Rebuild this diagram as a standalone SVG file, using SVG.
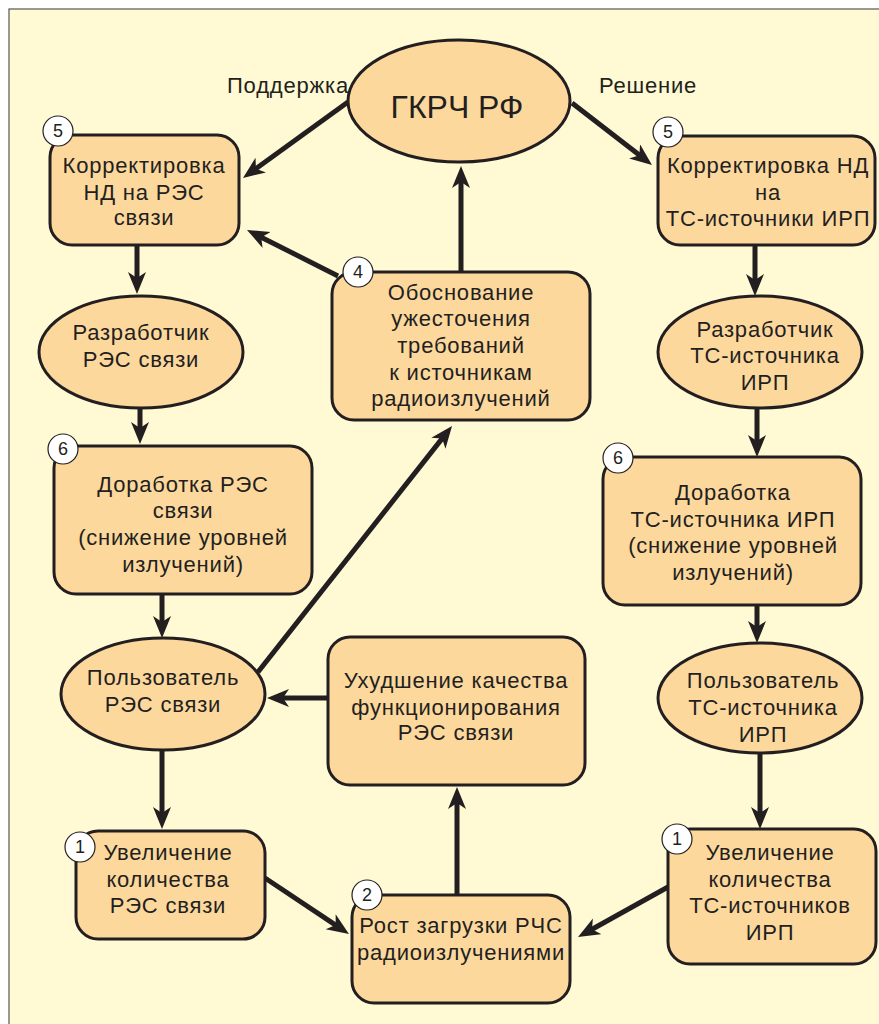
<svg xmlns="http://www.w3.org/2000/svg" width="879" height="1024" viewBox="0 0 879 1024">
<style>
.bg{fill:#FFF9D4;stroke:#555;stroke-width:1.2}
.box{fill:#FDD89D;stroke:#231F20;stroke-width:3}
.badge{fill:#fff;stroke:#231F20;stroke-width:1.2}
.t{font-family:"Liberation Sans",Arial,sans-serif;font-size:22px;letter-spacing:0.8px;fill:#231F20;text-anchor:middle}
.b{font-family:"Liberation Sans",Arial,sans-serif;font-size:18px;fill:#231F20;text-anchor:middle}
.c{stroke:#231F20;stroke-width:5;fill:none;marker-end:url(#ah)}
</style>
<defs>
<marker id="ah" markerUnits="userSpaceOnUse" markerWidth="24" markerHeight="20" refX="10" refY="9" orient="auto">
<path d="M0,0 L22,9 L0,18 L6,9 z" fill="#231F20"/>
</marker>
</defs>
<rect x="0" y="0" width="879" height="1024" fill="#fff"/>
<rect class="bg" x="9" y="9" width="880" height="1030"/>
<text class="t" x="288" y="93">Поддержка</text>
<text class="t" x="648" y="93">Решение</text>
<g id="connectors">
<line class="c" x1="348" y1="102" x2="252.7" y2="171"/>
<line class="c" x1="572" y1="103" x2="642.5" y2="157.6"/>
<line class="c" x1="338" y1="276" x2="257.7" y2="235.4"/>
<line class="c" x1="461" y1="272" x2="461" y2="178"/>
<line class="c" x1="137" y1="245" x2="137" y2="282"/>
<line class="c" x1="140" y1="408" x2="140" y2="432"/>
<line class="c" x1="162" y1="594" x2="162" y2="626"/>
<line class="c" x1="258" y1="672" x2="444.6" y2="435.4"/>
<line class="c" x1="328" y1="698" x2="279" y2="698"/>
<line class="c" x1="162" y1="750" x2="162" y2="817"/>
<line class="c" x1="265" y1="878" x2="339" y2="927.3"/>
<line class="c" x1="457" y1="895" x2="457" y2="799"/>
<line class="c" x1="755" y1="245" x2="755" y2="284"/>
<line class="c" x1="757" y1="408" x2="757" y2="445"/>
<line class="c" x1="757" y1="605" x2="757" y2="631"/>
<line class="c" x1="760" y1="753" x2="760" y2="817"/>
<line class="c" x1="668" y1="887" x2="588.5" y2="931.2"/>
</g>
<g id="gkrch">
<ellipse class="box" cx="459" cy="101" rx="111" ry="61"/>
<text class="t" x="457" y="118" style="font-size:32px;letter-spacing:0">ГКРЧ РФ</text>
</g>
<g id="korr-res">
<rect class="box" x="50" y="135" width="189" height="110" rx="22"/>
<text class="t" x="144" y="173">Корректировка</text>
<text class="t" x="144" y="200">НД на РЭС</text>
<text class="t" x="144" y="225">связи</text>
<circle class="badge" cx="58" cy="131" r="15"/>
<text class="b" x="58" y="137">5</text>
</g>
<g id="korr-ts">
<rect class="box" x="658" y="136" width="217" height="109" rx="22"/>
<text class="t" x="768" y="173">Корректировка НД</text>
<text class="t" x="768" y="200">на</text>
<text class="t" x="768" y="226">ТС-источники ИРП</text>
<circle class="badge" cx="668" cy="132" r="15"/>
<text class="b" x="668" y="138">5</text>
</g>
<g id="obosn">
<rect class="box" x="332" y="272" width="258" height="148" rx="22"/>
<text class="t" x="461" y="300">Обоснование</text>
<text class="t" x="461" y="326">ужесточения</text>
<text class="t" x="461" y="353">требований</text>
<text class="t" x="461" y="380">к источникам</text>
<text class="t" x="461" y="406">радиоизлучений</text>
<circle class="badge" cx="358" cy="272" r="15"/>
<text class="b" x="358" y="278">4</text>
</g>
<g id="razrab-res">
<ellipse class="box" cx="141" cy="352" rx="102" ry="56"/>
<text class="t" x="141" y="340">Разработчик</text>
<text class="t" x="141" y="367">РЭС связи</text>
</g>
<g id="razrab-ts">
<ellipse class="box" cx="760" cy="352" rx="102" ry="56"/>
<text class="t" x="765" y="337">Разработчик</text>
<text class="t" x="765" y="363">ТС-источника</text>
<text class="t" x="765" y="390">ИРП</text>
</g>
<g id="dorab-res">
<rect class="box" x="54" y="446" width="258" height="148" rx="22"/>
<text class="t" x="183" y="492">Доработка РЭС</text>
<text class="t" x="183" y="518">связи</text>
<text class="t" x="183" y="545">(снижение уровней</text>
<text class="t" x="183" y="572">излучений)</text>
<circle class="badge" cx="63" cy="449" r="15"/>
<text class="b" x="63" y="455">6</text>
</g>
<g id="dorab-ts">
<rect class="box" x="603" y="457" width="258" height="148" rx="22"/>
<text class="t" x="733" y="500">Доработка</text>
<text class="t" x="733" y="527">ТС-источника ИРП</text>
<text class="t" x="733" y="553">(снижение уровней</text>
<text class="t" x="733" y="580">излучений)</text>
<circle class="badge" cx="618" cy="458" r="15"/>
<text class="b" x="618" y="464">6</text>
</g>
<g id="polz-res">
<ellipse class="box" cx="163" cy="694" rx="102" ry="56"/>
<text class="t" x="163" y="685">Пользователь</text>
<text class="t" x="163" y="712">РЭС связи</text>
</g>
<g id="polz-ts">
<ellipse class="box" cx="760" cy="698" rx="102" ry="55"/>
<text class="t" x="763" y="688">Пользователь</text>
<text class="t" x="763" y="715">ТС-источника</text>
<text class="t" x="763" y="742">ИРП</text>
</g>
<g id="uhud">
<rect class="box" x="328" y="637" width="257" height="148" rx="22"/>
<text class="t" x="456" y="688">Ухудшение качества</text>
<text class="t" x="456" y="715">функционирования</text>
<text class="t" x="456" y="740">РЭС связи</text>
</g>
<g id="uvel-res">
<rect class="box" x="76" y="831" width="189" height="108" rx="22"/>
<text class="t" x="168" y="860">Увеличение</text>
<text class="t" x="168" y="887">количества</text>
<text class="t" x="168" y="913">РЭС связи</text>
<circle class="badge" cx="80" cy="847" r="15"/>
<text class="b" x="80" y="853">1</text>
</g>
<g id="rost">
<rect class="box" x="352" y="895" width="218" height="108" rx="22"/>
<text class="t" x="461" y="933">Рост загрузки РЧС</text>
<text class="t" x="461" y="960">радиоизлучениями</text>
<circle class="badge" cx="367" cy="895" r="15"/>
<text class="b" x="367" y="901">2</text>
</g>
<g id="uvel-ts">
<rect class="box" x="668" y="829" width="208" height="135" rx="22"/>
<text class="t" x="770" y="860">Увеличение</text>
<text class="t" x="770" y="887">количества</text>
<text class="t" x="770" y="913">ТС-источников</text>
<text class="t" x="770" y="940">ИРП</text>
<circle class="badge" cx="677" cy="839" r="15"/>
<text class="b" x="677" y="845">1</text>
</g>
</svg>
